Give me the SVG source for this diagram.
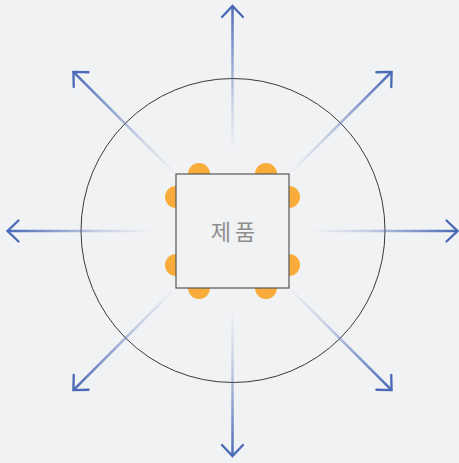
<svg xmlns="http://www.w3.org/2000/svg" width="459" height="463" viewBox="0 0 459 463">
<defs>
<linearGradient id="fade" gradientUnits="userSpaceOnUse" x1="0" y1="-80" x2="0" y2="-226">
<stop offset="0" stop-color="#4a69b6" stop-opacity="0"/>
<stop offset="0.35" stop-color="#4a69b6" stop-opacity="0.25"/>
<stop offset="1" stop-color="#4a69b6" stop-opacity="1"/>
</linearGradient>
<g id="arrow">
<line x1="0" y1="-80" x2="0" y2="-225" stroke="url(#fade)" stroke-width="2.5"/>
<path d="M-10.5,-214 L0,-225 L10.5,-214" fill="none" stroke="#4a69b6" stroke-width="2.3" stroke-linecap="round" stroke-linejoin="miter"/>
</g>
</defs>
<style>
.pin{fill:#f9ac3a}
.ring{fill:none;stroke:#3a3a3a;stroke-width:1}
.box{fill:#f1f2f4;stroke:#555;stroke-width:1.2}
.lbl{font-family:"Noto Sans CJK KR","Noto Sans",sans-serif;font-size:22px;fill:#8e8e8e;letter-spacing:4px}
</style>
<rect width="459" height="463" fill="#f1f2f4"/>
<circle class="ring" cx="233" cy="230.5" r="152"/>
<g id="connectors">
<use href="#arrow" transform="translate(232.5,231) rotate(0)"/>
<use href="#arrow" transform="translate(232.5,231) rotate(45)"/>
<use href="#arrow" transform="translate(232.5,231) rotate(90)"/>
<use href="#arrow" transform="translate(232.5,231) rotate(135)"/>
<use href="#arrow" transform="translate(232.5,231) rotate(180)"/>
<use href="#arrow" transform="translate(232.5,231) rotate(225)"/>
<use href="#arrow" transform="translate(232.5,231) rotate(270)"/>
<use href="#arrow" transform="translate(232.5,231) rotate(315)"/>
</g>
<g id="product">
<circle class="pin" cx="199" cy="174" r="11"/>
<circle class="pin" cx="266" cy="174" r="11"/>
<circle class="pin" cx="199" cy="288" r="11"/>
<circle class="pin" cx="266" cy="288" r="11"/>
<circle class="pin" cx="176" cy="197" r="11"/>
<circle class="pin" cx="176" cy="265" r="11"/>
<circle class="pin" cx="289" cy="197" r="11"/>
<circle class="pin" cx="289" cy="265" r="11"/>
<rect class="box" x="176" y="174" width="113" height="114"/>
<text class="lbl" x="235" y="240" text-anchor="middle">제품</text>
</g>
</svg>
